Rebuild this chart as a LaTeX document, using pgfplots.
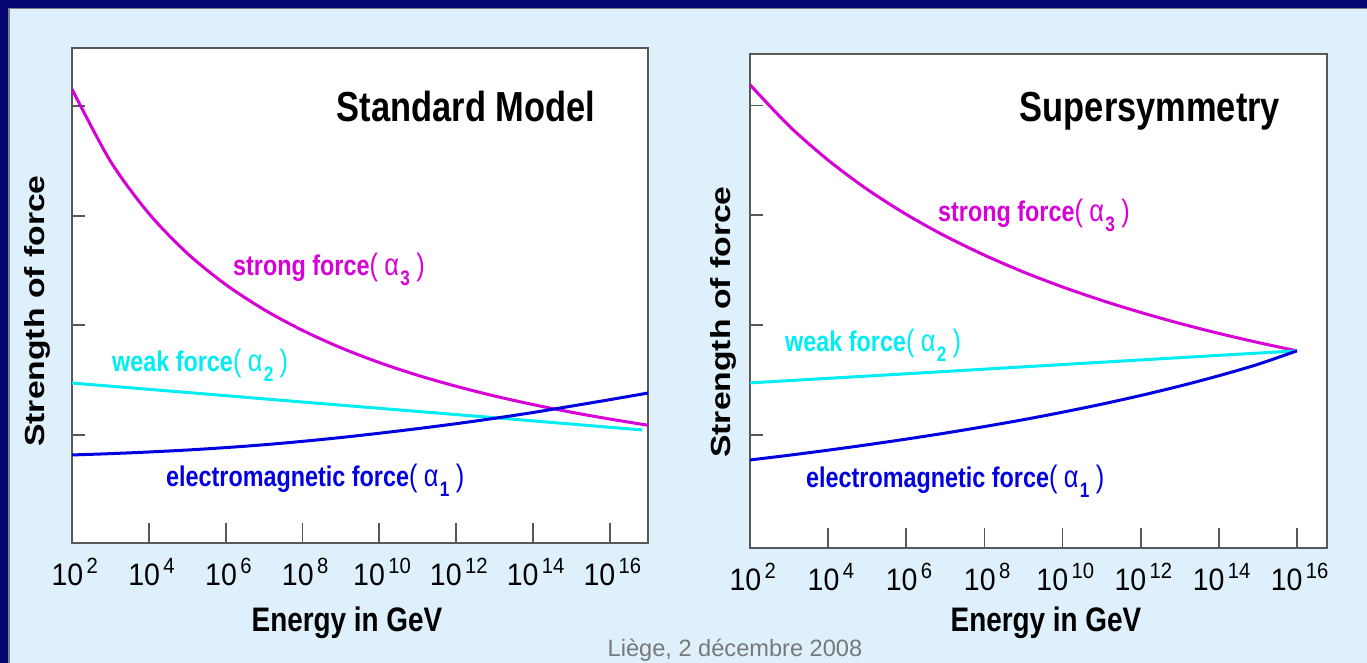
\documentclass[border=0pt]{standalone}
\usepackage{fontspec}
\setmainfont{Liberation Sans}
\usepackage{pgfplots}
\pgfplotsset{compat=1.18}
\definecolor{bgblue}{RGB}{222,240,252}
\definecolor{navy}{RGB}{6,6,112}
\definecolor{smag}{RGB}{215,0,215}
\definecolor{wcyan}{RGB}{0,238,242}
\definecolor{eblue}{RGB}{0,0,225}
\definecolor{framegray}{RGB}{88,88,88}
\definecolor{footgray}{RGB}{120,120,120}
\newcommand\tl[1]{10\raisebox{0.40em}{\fontsize{22}{22}\selectfont\,#1}}
\newcommand\cs[1]{\scalebox{0.82}[1]{#1}}
\newcommand\sub[1]{\raisebox{-0.32em}{\fontsize{21}{21}\selectfont\bfseries #1}}
\newcommand\clab[2]{\cs{\fontsize{28.5}{30}\selectfont\bfseries #1\mdseries\fontsize{31}{31}\selectfont(\hspace{0.25em}α\hspace{0.05em}\sub{#2}\hspace{0.25em})}}
\pgfplotsset{panel/.style={
  scale only axis, xmin=2,
  axis background/.style={fill=white},
  axis line style={draw=framegray, line width=2.2pt},
  xtick={2,4,...,16},
  xticklabels={\tl{2},\tl{4},\tl{6},\tl{8},\tl{10},\tl{12},\tl{14},\tl{16}},
  minor xtick={4,6,...,16},
  ytick={1,2,3,4}, yticklabels={},
  tick align=inside, xtick pos=bottom, ytick pos=left,
  major tick length=13pt, minor tick length=20pt,
  tick style={draw=framegray, line width=1.8pt},
  xticklabel style={font=\fontsize{31}{31}\selectfont, anchor=base, yshift=-43pt, xscale=0.92, xshift=3pt},
  every axis plot/.style={line width=3pt, smooth},
}}
\begin{document}
\begin{tikzpicture}[x=1pt,y=1pt]
\useasboundingbox (0,0) rectangle (1367,663);
\fill[bgblue] (0,0) rectangle (1367,663);
\fill[navy] (0,655) rectangle (1367,663);
\fill[navy] (0,0) rectangle (8,663);
\draw[gray, line width=1.5pt] (8.75,0) -- (8.75,654.25) -- (1367,654.25);

% ---------------- Standard Model ----------------
\begin{axis}[panel, at={(72pt,120pt)}, anchor=south west,
  width=576pt, height=495pt, xmax=17, ymin=0.015, ymax=4.53]
\addplot[smag] coordinates {(2,4.155) (3,3.498) (4,3.021) (5,2.658) (6,2.373) (7,2.144) (8,1.955) (9,1.796) (10,1.661) (11,1.545) (12,1.445) (13,1.356) (14,1.278) (15,1.208) (16,1.146) (17,1.089)};
\addplot[wcyan] coordinates {(2,1.474) (5,1.388) (8,1.301) (11,1.215) (14,1.129) (16.85,1.046)};
\addplot[eblue] coordinates {(2,0.818) (3,0.830) (4,0.845) (5,0.863) (6,0.885) (7,0.911) (8,0.942) (9,0.977) (10,1.016) (11,1.058) (12,1.103) (13,1.152) (14,1.205) (15,1.263) (16,1.322) (17,1.383)};
\end{axis}

% ---------------- Supersymmetry ----------------
\begin{axis}[panel, at={(750pt,115pt)}, anchor=south west,
  width=577pt, height=494pt, xmax=16.77, ymin=-0.03, ymax=4.47]
\addplot[smag] coordinates {(2,4.19) (3,3.815) (4,3.503) (5,3.237) (6,3.009) (7,2.811) (8,2.638) (9,2.484) (10,2.348) (11,2.226) (12,2.116) (13,2.016) (14,1.925) (15,1.842) (16,1.766)};
\addplot[wcyan] coordinates {(2,1.474) (6,1.557) (9,1.62) (13,1.704) (16,1.766)};
\addplot[eblue] coordinates {(2,0.772) (3,0.815) (4,0.861) (5,0.910) (6,0.962) (7,1.017) (8,1.076) (9,1.139) (10,1.207) (11,1.280) (12,1.359) (13,1.445) (14,1.539) (15,1.643) (16,1.766)};
\end{axis}

% titles
\node[anchor=base] at (466,541) {\cs{\fontsize{42}{44}\selectfont\bfseries Standard Model}};
\node[anchor=base] at (1150,541) {\cs{\fontsize{42}{44}\selectfont\bfseries Supersymmetry}};
% axis labels
\node[anchor=base] at (347,31) {\cs{\fontsize{34}{36}\selectfont\bfseries Energy in GeV}};
\node[anchor=base] at (1046,31) {\cs{\fontsize{34}{36}\selectfont\bfseries Energy in GeV}};
\node[rotate=90] at (37,352) {\scalebox{1}[0.82]{\fontsize{33.7}{36}\selectfont\bfseries Strength of force}};
\node[rotate=90] at (723,341) {\scalebox{1}[0.82]{\fontsize{33.7}{36}\selectfont\bfseries Strength of force}};
% curve labels
\node[anchor=base west, inner sep=0pt, smag] at (233,387) {\clab{strong force}{3}};
\node[anchor=base west, inner sep=0pt, wcyan] at (112,291) {\clab{weak force}{2}};
\node[anchor=base west, inner sep=0pt, eblue] at (166,176) {\clab{electromagnetic force}{1}};
\node[anchor=base west, inner sep=0pt, smag] at (938,441) {\clab{strong force}{3}};
\node[anchor=base west, inner sep=0pt, wcyan] at (785,311) {\clab{weak force}{2}};
\node[anchor=base west, inner sep=0pt, eblue] at (806,175) {\clab{electromagnetic force}{1}};
% footer
\node[footgray] at (735,13) {\fontsize{23.6}{25}\selectfont Liège, 2 décembre 2008};
\end{tikzpicture}
\end{document}
